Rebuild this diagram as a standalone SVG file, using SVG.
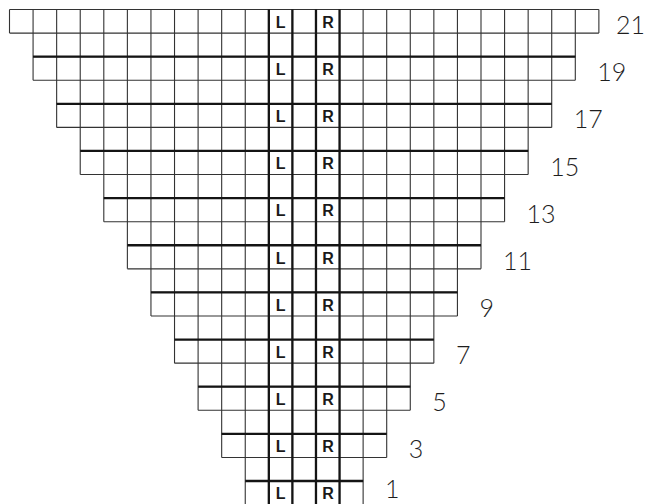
<svg xmlns="http://www.w3.org/2000/svg" width="647" height="504" viewBox="0 0 647 504">
<style>
.bg{fill:#ffffff}
.thin{stroke:#333333;stroke-width:1.1;fill:none}
.thick{stroke:#141414;stroke-width:2.3;fill:none}
.lr{font-family:"Liberation Sans",Arial,sans-serif;font-weight:bold;font-size:16px;fill:#1a1a1a;text-anchor:middle}
.num{font-family:Lato,"Open Sans","DejaVu Sans",sans-serif;font-weight:300;font-size:25px;fill:#1e1e1e}
</style>
<rect class="bg" x="0" y="0" width="647" height="504"/>
<g id="grid-thin" class="thin">
<path d="M9.5 9.5H598.875M9.5 33.075H598.875M33.075 56.65H575.3M33.075 80.225H575.3M56.65 103.8H551.725M56.65 127.375H551.725M80.225 150.95H528.15M80.225 174.525H528.15M103.8 198.1H504.575M103.8 221.675H504.575M127.375 245.25H481M127.375 268.825H481M150.95 292.4H457.425M150.95 315.975H457.425M174.525 339.55H433.85M174.525 363.125H433.85M198.1 386.7H410.275M198.1 410.275H410.275M221.675 433.85H386.7M221.675 457.425H386.7M245.25 481H363.125M245.25 504.575H363.125"/>
<path d="M9.5 9.5V33.075M33.075 9.5V80.225M56.65 9.5V127.375M80.225 9.5V174.525M103.8 9.5V221.675M127.375 9.5V268.825M150.95 9.5V315.975M174.525 9.5V363.125M198.1 9.5V410.275M221.675 9.5V457.425M245.25 9.5V504.575M268.825 9.5V504.575M292.4 9.5V504.575M315.975 9.5V504.575M339.55 9.5V504.575M363.125 9.5V504.575M386.7 9.5V457.425M410.275 9.5V410.275M433.85 9.5V363.125M457.425 9.5V315.975M481 9.5V268.825M504.575 9.5V221.675M528.15 9.5V174.525M551.725 9.5V127.375M575.3 9.5V80.225M598.875 9.5V33.075"/>
</g>
<g id="grid-thick" class="thick">
<path d="M33.075 56.65H575.3M56.65 103.8H551.725M80.225 150.95H528.15M103.8 198.1H504.575M127.375 245.25H481M150.95 292.4H457.425M174.525 339.55H433.85M198.1 386.7H410.275M221.675 433.85H386.7M245.25 481H363.125"/>
<path d="M268.825 9.5V504.575M292.4 9.5V504.575M315.975 9.5V504.575M339.55 9.5V504.575"/>
</g>
<g id="lr-labels" class="lr">
<text x="280.6" y="27.8">L</text><text x="328" y="27.8">R</text>
<text x="280.6" y="74.95">L</text><text x="328" y="74.95">R</text>
<text x="280.6" y="122.1">L</text><text x="328" y="122.1">R</text>
<text x="280.6" y="169.25">L</text><text x="328" y="169.25">R</text>
<text x="280.6" y="216.4">L</text><text x="328" y="216.4">R</text>
<text x="280.6" y="263.55">L</text><text x="328" y="263.55">R</text>
<text x="280.6" y="310.7">L</text><text x="328" y="310.7">R</text>
<text x="280.6" y="357.85">L</text><text x="328" y="357.85">R</text>
<text x="280.6" y="405">L</text><text x="328" y="405">R</text>
<text x="280.6" y="452.15">L</text><text x="328" y="452.15">R</text>
<text x="280.6" y="499.3">L</text><text x="328" y="499.3">R</text>
</g>
<g id="row-numbers" class="num">
<text x="645" y="34.1" text-anchor="end">21</text>
<text x="597.3" y="81.2">19</text>
<text x="573.7" y="128.4">17</text>
<text x="550.2" y="175.5">15</text>
<text x="526.6" y="222.7">13</text>
<text x="503" y="269.8">11</text>
<text x="479.4" y="317">9</text>
<text x="455.9" y="364.1">7</text>
<text x="432.3" y="411.3">5</text>
<text x="408.7" y="458.4">3</text>
<text x="385.1" y="498">1</text>
</g>
</svg>
